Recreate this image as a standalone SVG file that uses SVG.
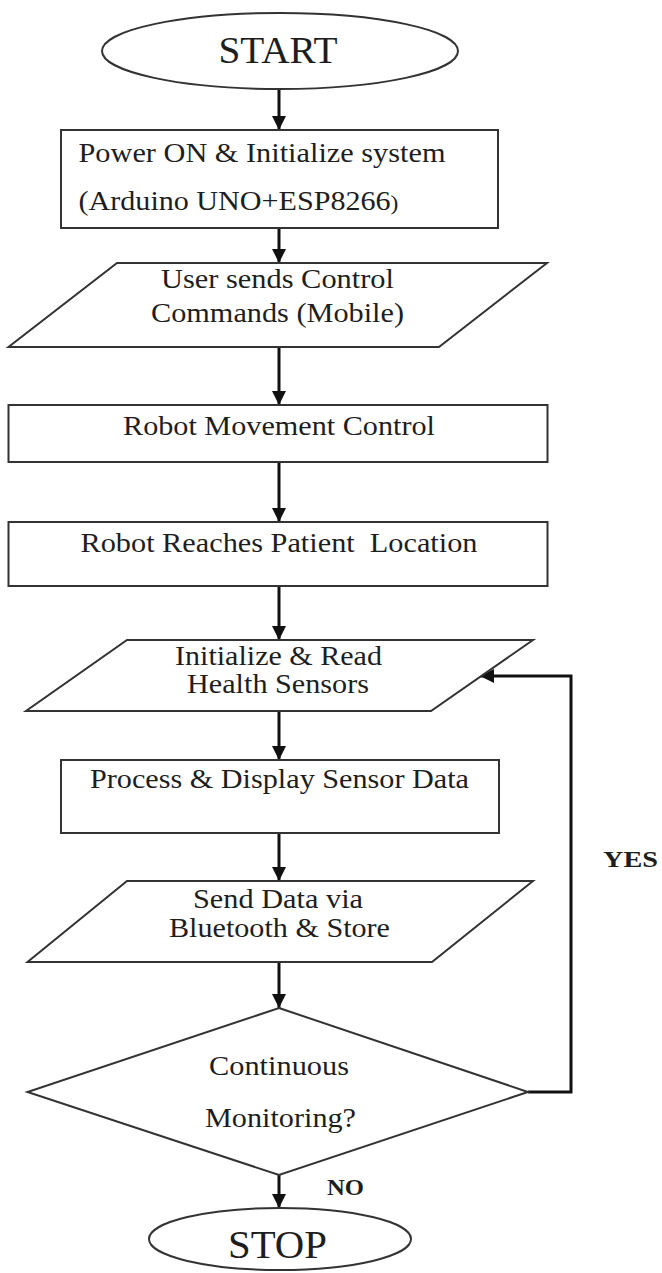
<svg xmlns="http://www.w3.org/2000/svg" width="662" height="1273" viewBox="0 0 662 1273">
  <style>
    .shape { fill: #ffffff; stroke: #333333; stroke-width: 2; }
    .flow { fill: none; stroke: #111111; stroke-width: 3; }
    .lbl { font-family: "Liberation Serif", "Times New Roman", serif; font-size: 28px; fill: #1e1e1e; text-anchor: middle; white-space: pre; }
    .left { text-anchor: start; }
    .term { font-size: 37px; }
    .tag { font-weight: bold; font-size: 23px; text-anchor: start; }
  </style>
  <defs>
    <marker id="arrow" markerUnits="userSpaceOnUse" markerWidth="14" markerHeight="14" refX="14" refY="7" orient="auto">
      <path d="M0,0 L14,7 L0,14 z" fill="#111111"/>
    </marker>
  </defs>

  <rect width="662" height="1273" fill="#ffffff"/>

  <!-- connectors -->
  <g id="connectors">
    <line class="flow" x1="279" y1="89" x2="279" y2="130" marker-end="url(#arrow)"/>
    <line class="flow" x1="279" y1="228" x2="279" y2="263" marker-end="url(#arrow)"/>
    <line class="flow" x1="279" y1="347" x2="279" y2="405" marker-end="url(#arrow)"/>
    <line class="flow" x1="279" y1="462" x2="279" y2="522" marker-end="url(#arrow)"/>
    <line class="flow" x1="279" y1="586" x2="279" y2="640" marker-end="url(#arrow)"/>
    <line class="flow" x1="279" y1="711" x2="279" y2="760" marker-end="url(#arrow)"/>
    <line class="flow" x1="279" y1="833" x2="279" y2="881" marker-end="url(#arrow)"/>
    <line class="flow" x1="279" y1="962" x2="279" y2="1008" marker-end="url(#arrow)"/>
    <line class="flow" x1="279" y1="1175" x2="279" y2="1208" marker-end="url(#arrow)"/>
    <!-- loop back when monitoring continues -->
    <polyline class="flow" points="528,1092 571,1092 571,676 480,676" marker-end="url(#arrow)"/>
    <text class="lbl tag" x="603" y="867" textLength="55" lengthAdjust="spacingAndGlyphs">YES</text>
    <text class="lbl tag" x="327" y="1195" textLength="37" lengthAdjust="spacingAndGlyphs">NO</text>
  </g>

  <g id="start">
    <ellipse class="shape" cx="280" cy="51" rx="178" ry="38"/>
    <text class="lbl term" x="278" y="63" textLength="119" lengthAdjust="spacingAndGlyphs">START</text>
  </g>

  <g id="init-system">
    <rect class="shape" x="61" y="130" width="437" height="98"/>
    <text class="lbl left" x="78.5" y="162" textLength="367" lengthAdjust="spacingAndGlyphs">Power ON &amp; Initialize system</text>
    <text class="lbl left" x="78.5" y="210" textLength="320" lengthAdjust="spacingAndGlyphs">(Arduino UNO+ESP8266<tspan style="font-size:22px">)</tspan></text>
  </g>

  <g id="user-commands">
    <polygon class="shape" points="117,263 547,263 439,347 8.5,347"/>
    <text class="lbl" x="277.5" y="288" textLength="233" lengthAdjust="spacingAndGlyphs">User sends Control</text>
    <text class="lbl" x="277.5" y="322" textLength="253" lengthAdjust="spacingAndGlyphs">Commands (Mobile)</text>
  </g>

  <g id="movement-control">
    <rect class="shape" x="8.5" y="405" width="539" height="57"/>
    <text class="lbl" x="279" y="435" textLength="312" lengthAdjust="spacingAndGlyphs">Robot Movement Control</text>
  </g>

  <g id="reach-patient">
    <rect class="shape" x="8.5" y="522" width="539" height="64"/>
    <text class="lbl" x="279" y="552" textLength="397" lengthAdjust="spacingAndGlyphs">Robot Reaches Patient  Location</text>
  </g>

  <g id="read-sensors">
    <polygon class="shape" points="127,640 533,640 431,711 26,711"/>
    <text class="lbl" x="278.5" y="665" textLength="207" lengthAdjust="spacingAndGlyphs">Initialize &amp; Read</text>
    <text class="lbl" x="278" y="693" textLength="182" lengthAdjust="spacingAndGlyphs">Health Sensors</text>
  </g>

  <g id="process-display">
    <rect class="shape" x="61" y="760" width="438" height="73"/>
    <text class="lbl" x="279.5" y="788" textLength="379" lengthAdjust="spacingAndGlyphs">Process &amp; Display Sensor Data</text>
  </g>

  <g id="send-store">
    <polygon class="shape" points="127,881 533,881 432,962 27.5,962"/>
    <text class="lbl" x="278" y="908" textLength="170" lengthAdjust="spacingAndGlyphs">Send Data via</text>
    <text class="lbl" x="279.5" y="937" textLength="221" lengthAdjust="spacingAndGlyphs">Bluetooth &amp; Store</text>
  </g>

  <g id="monitoring-decision">
    <polygon class="shape" points="279,1008 528,1092 279,1175 27.5,1092"/>
    <text class="lbl" x="279" y="1075" textLength="140" lengthAdjust="spacingAndGlyphs">Continuous</text>
    <text class="lbl" x="280.5" y="1127" textLength="151" lengthAdjust="spacingAndGlyphs">Monitoring?</text>
  </g>

  <g id="stop">
    <ellipse class="shape" cx="280" cy="1239" rx="131" ry="31"/>
    <text class="lbl term" x="277.5" y="1258" style="font-size:40px" textLength="99" lengthAdjust="spacingAndGlyphs">STOP</text>
  </g>
</svg>
